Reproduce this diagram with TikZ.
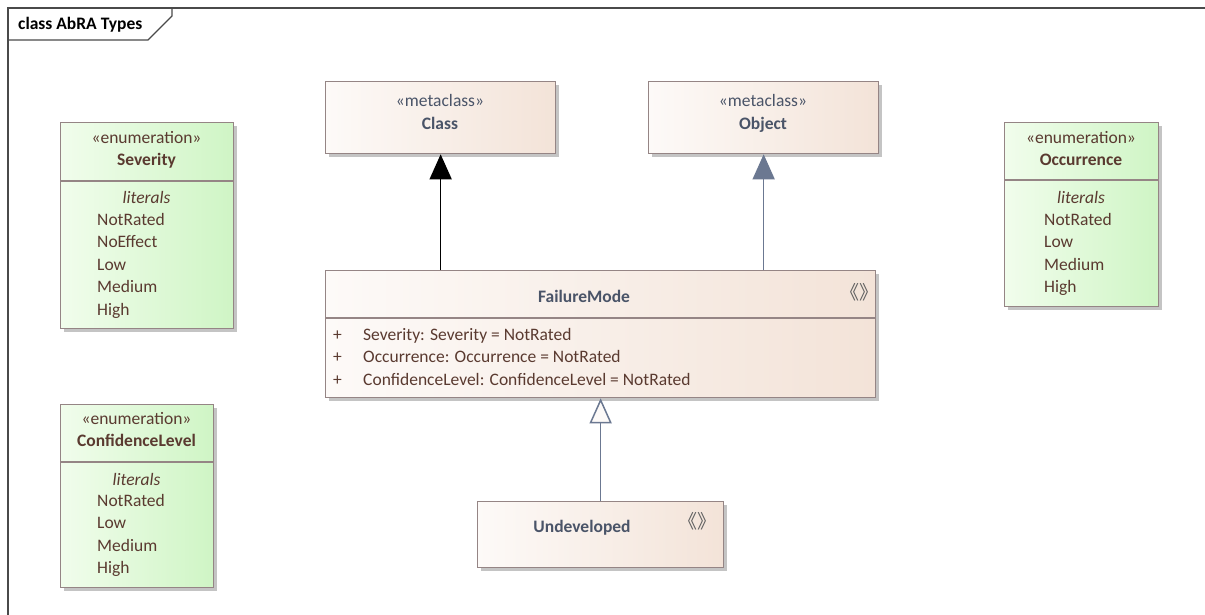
\documentclass[tikz,border=0pt]{standalone}
\usepackage{fontspec}
\setmainfont{Carlito}
\newfontfamily\cjkfont{Noto Sans CJK SC}
\usetikzlibrary{arrows.meta,shadows,calc}

\definecolor{enumL}{HTML}{F1FDEC}
\definecolor{enumR}{HTML}{CFF5C5}
\definecolor{clsL}{HTML}{FDFAF8}
\definecolor{clsR}{HTML}{F3E3D8}
\definecolor{boxedge}{HTML}{958585}
\definecolor{shadowgray}{HTML}{C4C4C4}
\definecolor{slate}{HTML}{6B7891}
\definecolor{slatetext}{HTML}{4A5468}
\definecolor{browntext}{HTML}{5A3A30}
\definecolor{framegray}{HTML}{4A4A4A}
\definecolor{iconalpha}{HTML}{606060}

\tikzset{
  boxbase/.style={draw=boxedge, line width=1.3pt, rectangle, anchor=north west,
    inner sep=0pt,
    drop shadow={shadow xshift=3pt, shadow yshift=-3pt, fill=shadowgray, opacity=1}},
  enumbox/.style={boxbase, shading=axis, left color=enumL, right color=enumR, shading angle=90},
  clsbox/.style={boxbase, shading=axis, left color=clsL, right color=clsR, shading angle=90},
  sepline/.style={draw=boxedge, line width=1.3pt},
  txt/.style={inner sep=0pt, font=\fontsize{17.5}{21}\selectfont, text height=14pt, text depth=2pt},
  stereo/.style={txt, text=browntext},
  ename/.style={txt, text=browntext, font=\fontsize{17.5}{21}\selectfont\bfseries},
  cstereo/.style={txt, text=slatetext},
  cname/.style={txt, text=slatetext, font=\fontsize{17.5}{21}\selectfont\bfseries},
  littitle/.style={txt, text=browntext, font=\fontsize{17.5}{21}\selectfont\itshape},
  lit/.style={txt, text=browntext, anchor=west},
  icon/.style={inner sep=0pt, text=iconalpha, font=\cjkfont\fontsize{19}{19}\selectfont},
  realize/.style={draw=black, line width=1.5pt, -{Triangle[width=22pt,length=25pt,fill=black]}},
  realizeslate/.style={draw=slate, line width=1.5pt, -{Triangle[width=22pt,length=25pt,fill=slate]}},
  generalize/.style={draw=slate, line width=1.5pt, -{Triangle[width=22pt,length=25pt,fill=clsL]}},
  frameline/.style={draw=framegray, line width=1.8pt},
}

\begin{document}
\begin{tikzpicture}[x=1pt,y=-1pt]
\useasboundingbox (0,0) rectangle (1205,615);

% diagram frame and its tab
\draw[frameline] (8,615) -- (8,8) -- (1205,8);
\draw[frameline, line width=1.3pt] (8,40) -- (148,40) -- (172,16) -- (172,8);
\node[txt, font=\fontsize{17.5}{21}\selectfont\bfseries, anchor=west] (frametitle) at (18,24) {class AbRA Types};

% ---------- enumeration Severity ----------
\node[enumbox, minimum width=173pt, minimum height=206pt] (sev) at (60,122) {};
\draw[sepline] ($(sev.north west)+(0,59)$) -- ($(sev.north east)+(0,59)$);
\node[stereo] (sevst) at (146.5,137) {«enumeration»};
\node[ename] (sevnm) at (146.5,159) {Severity};
\node[littitle] (sevlt) at (146.5,197) {literals};
\foreach \t [count=\i] in {NotRated,NoEffect,Low,Medium,High}
  \node[lit] (sevl\i) at (97,{219+22.5*(\i-1)}) {\t};

% ---------- enumeration ConfidenceLevel ----------
\node[enumbox, minimum width=153pt, minimum height=183pt] (conf) at (60,404) {};
\draw[sepline] ($(conf.north west)+(0,58)$) -- ($(conf.north east)+(0,58)$);
\node[stereo] (confst) at (136.5,418) {«enumeration»};
\node[ename] (confnm) at (136.5,440) {ConfidenceLevel};
\node[littitle] (conflt) at (136.5,479) {literals};
\foreach \t [count=\i] in {NotRated,Low,Medium,High}
  \node[lit] (confl\i) at (97,{500+22.5*(\i-1)}) {\t};

% ---------- enumeration Occurrence ----------
\node[enumbox, minimum width=154pt, minimum height=184pt] (occ) at (1004,122) {};
\draw[sepline] ($(occ.north west)+(0,58)$) -- ($(occ.north east)+(0,58)$);
\node[stereo] (occst) at (1081,137) {«enumeration»};
\node[ename] (occnm) at (1081,159) {Occurrence};
\node[littitle] (occlt) at (1081,197) {literals};
\foreach \t [count=\i] in {NotRated,Low,Medium,High}
  \node[lit] (occl\i) at (1044,{219+22.5*(\i-1)}) {\t};

% ---------- metaclasses ----------
\node[clsbox, minimum width=230pt, minimum height=72pt] (cls) at (325,81) {};
\node[cstereo] (clsst) at (440,101) {«metaclass»};
\node[cname] (clsnm) at (440,124) {Class};

\node[clsbox, minimum width=230pt, minimum height=72pt] (obj) at (648,81) {};
\node[cstereo] (objst) at (763,101) {«metaclass»};
\node[cname] (objnm) at (763,124) {Object};

% ---------- stereotype FailureMode ----------
\node[clsbox, minimum width=550pt, minimum height=127pt] (fm) at (325,270) {};
\draw[sepline] ($(fm.north west)+(0,48)$) -- ($(fm.north east)+(0,48)$);
\node[cname] (fmnm) at (584,296) {FailureMode};
\node[icon] (fmicon) at (859,292) {《》};
\node[lit] (fmp1) at (333,334) {+};
\node[lit] (fma1) at (363,334) {Severity: Severity = NotRated};
\node[lit] (fmp2) at (333,356) {+};
\node[lit] (fma2) at (363,356) {Occurrence: Occurrence = NotRated};
\node[lit] (fmp3) at (333,379) {+};
\node[lit] (fma3) at (363,379) {ConfidenceLevel: ConfidenceLevel = NotRated};

% ---------- stereotype Undeveloped ----------
\node[clsbox, minimum width=246pt, minimum height=66pt] (und) at (477,501) {};
\node[cname] (undnm) at (582,526) {Undeveloped};
\node[icon] (undicon) at (697,521) {《》};

% ---------- connectors ----------
\draw[realize] (fm.north -| cls.south) -- (cls.south);
\draw[realizeslate] (fm.north -| obj.south) -- (obj.south);
\draw[generalize] (und.north) -- (fm.south);
\end{tikzpicture}
\end{document}
